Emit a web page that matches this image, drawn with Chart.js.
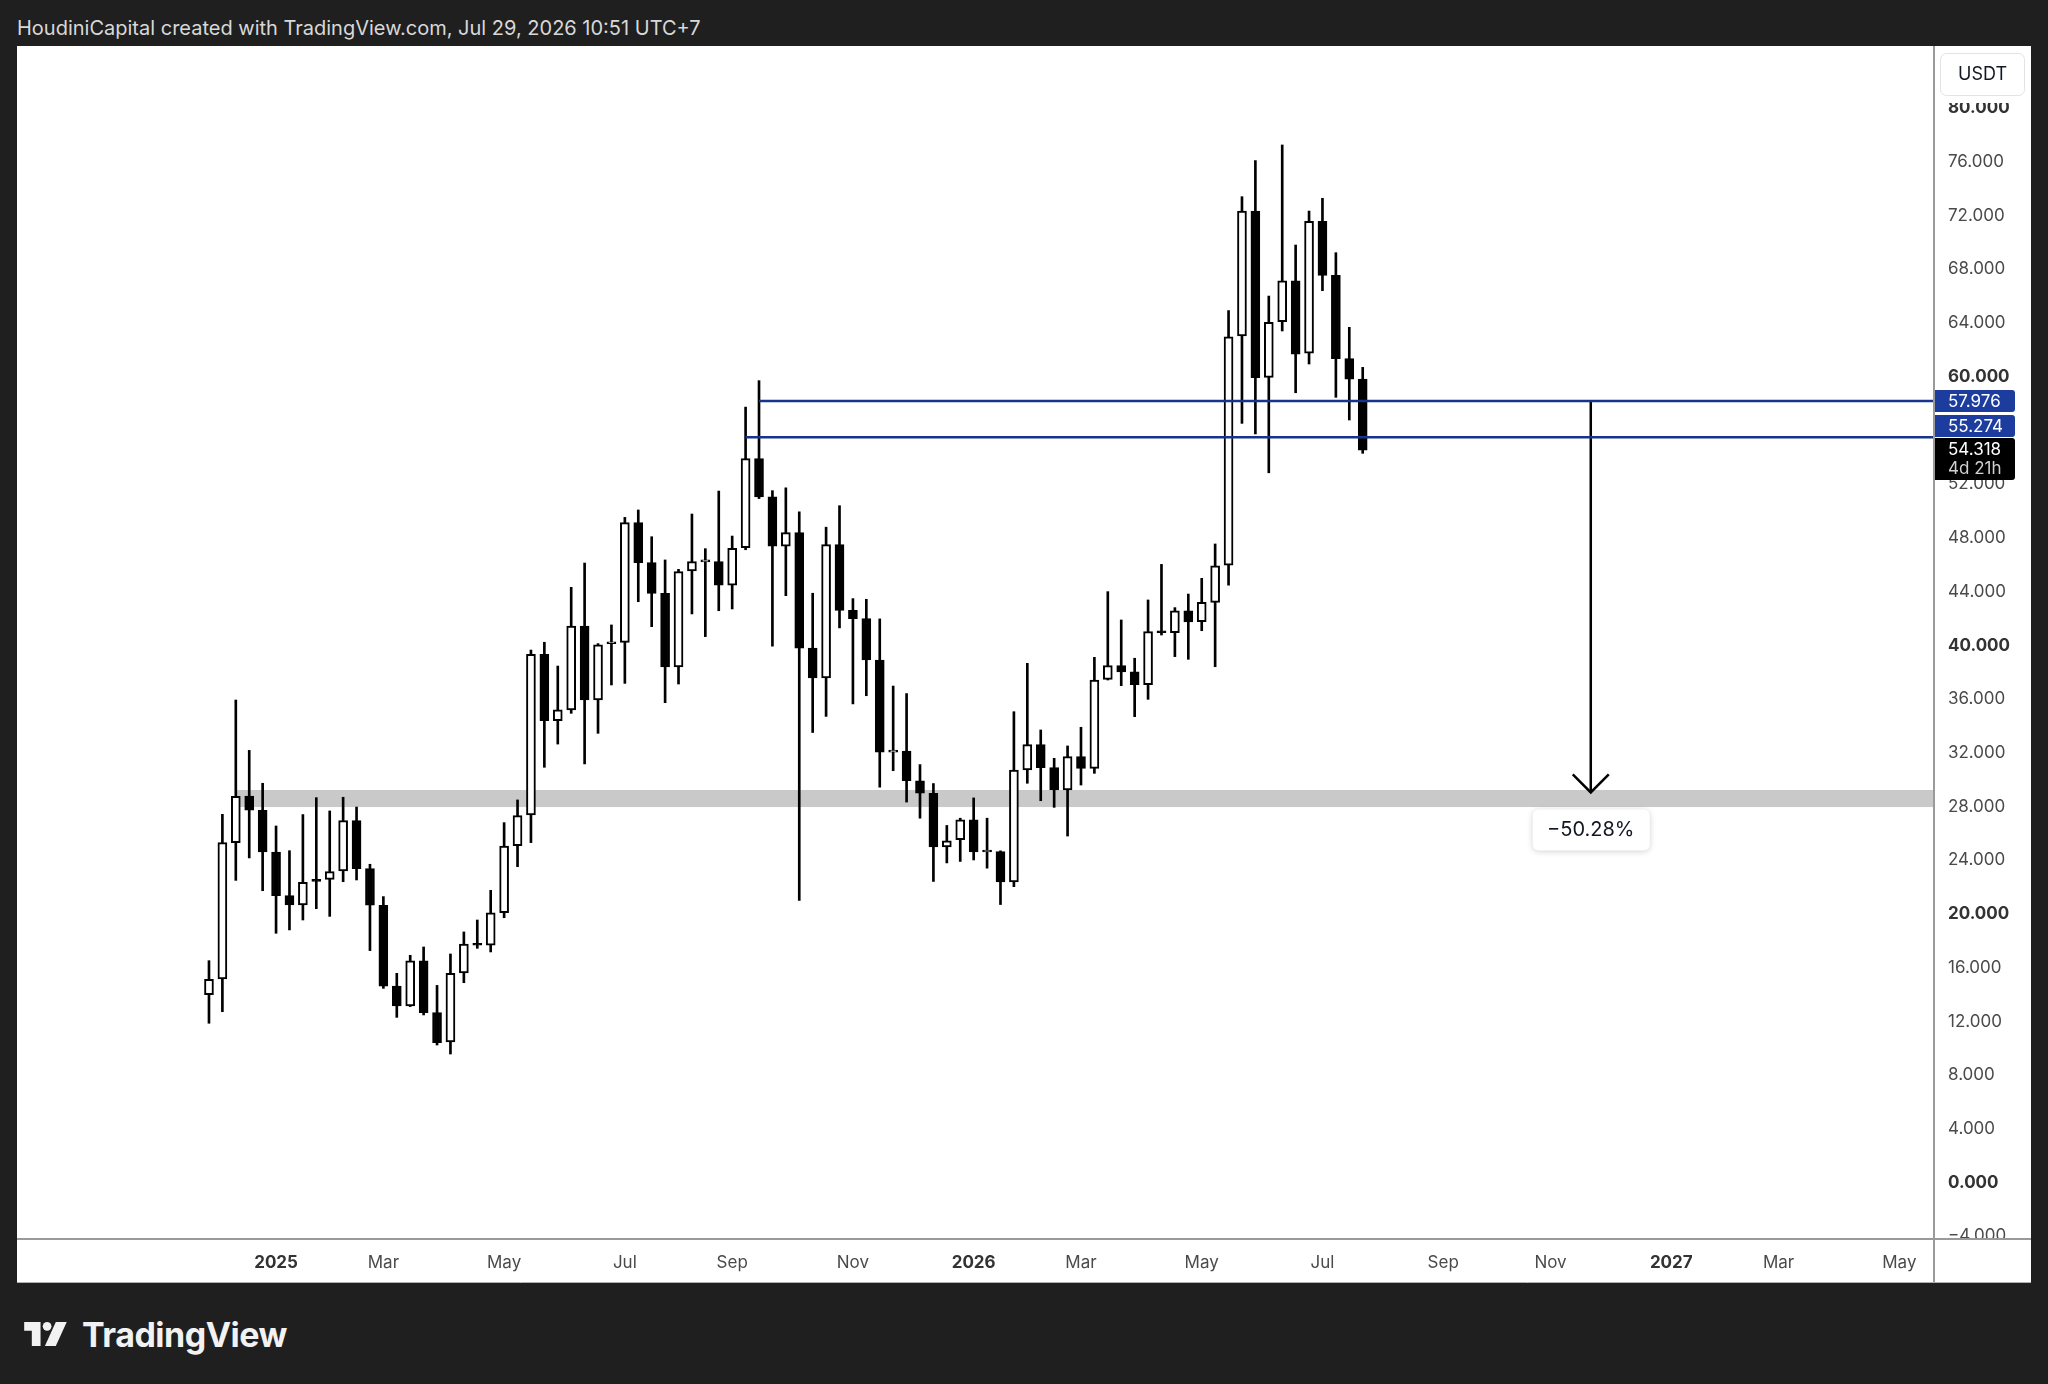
<!DOCTYPE html>
<html>
<head>
<meta charset="utf-8">
<script src="https://cdn.jsdelivr.net/npm/chart.js@4.4.1/dist/chart.umd.min.js"></script>
<style>
    body { margin: 0; width: 2048px; height: 1384px; overflow: hidden; background: #1f1f1f; font-family: Inter, Roboto, sans-serif; }
    #header { position: absolute; left: 17px; top: 16px; font-size: 20px; color: #d8d8d8; white-space: nowrap; }
    #panel { position: absolute; left: 17px; top: 46px; width: 2014px; height: 1237px; background: #fff; }
    #logo { position: absolute; left: 20px; top: 1316px; height: 36px; display: flex; align-items: center; }
    #logo span { font-size: 34px; font-weight: 700; color: #f2f2f2; margin-left: 10px; letter-spacing: -0.5px; }
</style>
</head>
<body>
<div id="header">HoudiniCapital created with TradingView.com, Jul 29, 2026 10:51 UTC+7</div>
<div id="panel"><canvas id="chartPrice"></canvas></div>
<div id="logo">
    <svg width="52" height="24" viewBox="0 0 40 22">
        <path d="M0 0H15V22H7V8H0Z" fill="#f2f2f2"/>
        <circle cx="21" cy="4" r="4" fill="#f2f2f2"/>
        <path d="M29 0H39L29 22H19Z" fill="#f2f2f2"/>
    </svg>
    <span>TradingView</span>
</div>
<script>
// weekly candles, first one opens Mon Dec 2 2024 (prices in thousands)
const startDate = Date.UTC(2024, 11, 2)
const opens = [13.77, 14.94, 25.09, 28.56, 27.50, 24.39, 21.14, 20.45, 22.35, 22.36,
    22.98, 26.73, 23.15, 20.43, 14.41, 12.93, 16.28, 12.43, 10.25, 15.38,
    17.55, 17.45, 19.87, 24.87, 27.15, 39.11, 34.17, 34.97, 41.22, 35.71,
    39.90, 40.00, 48.92, 45.94, 43.65, 38.17, 45.32, 46.00, 46.01, 44.27,
    47.05, 53.69, 50.84, 47.17, 48.18, 39.57, 37.36, 47.28, 42.38, 41.77,
    38.69, 31.83, 31.90, 29.70, 28.77, 24.78, 25.32, 26.78, 24.39, 24.42,
    22.17, 30.50, 32.39, 30.67, 29.01, 31.49, 30.62, 37.25, 38.27, 37.80,
    36.85, 40.80, 40.72, 42.36, 41.55, 42.98, 45.76, 62.82, 72.12, 59.73,
    63.88, 66.93, 61.53, 71.35, 67.33, 61.13, 59.61]
const highs = [16.30, 27.20, 35.71, 31.96, 29.51, 26.33, 24.49, 27.18, 28.44, 27.45,
    28.47, 27.74, 23.48, 21.07, 15.36, 16.70, 17.32, 14.46, 16.80, 18.44,
    19.33, 21.54, 26.58, 28.27, 39.43, 40.01, 38.24, 44.10, 45.91, 39.91,
    41.30, 49.31, 49.86, 47.87, 46.14, 45.44, 49.56, 46.98, 51.27, 47.92,
    57.52, 59.49, 51.30, 51.51, 49.72, 43.66, 48.58, 50.18, 43.26, 43.21,
    41.75, 36.75, 36.19, 30.90, 29.49, 26.37, 26.91, 28.42, 26.91, 24.48,
    34.84, 38.44, 33.48, 31.37, 32.29, 33.68, 38.89, 43.78, 41.67, 38.82,
    43.16, 45.81, 42.59, 43.60, 44.77, 47.33, 64.70, 73.19, 75.87, 65.79,
    77.04, 69.59, 72.12, 73.07, 69.02, 63.46, 60.48]
const lows = [11.64, 12.50, 22.28, 23.95, 21.51, 18.34, 18.59, 19.33, 20.17, 19.60,
    22.18, 22.31, 17.05, 14.24, 12.08, 12.88, 12.26, 10.02, 9.35, 14.66,
    17.22, 16.95, 19.50, 23.30, 25.09, 30.70, 32.43, 34.72, 30.95, 33.23,
    36.83, 36.95, 43.03, 41.17, 35.51, 36.90, 42.12, 40.43, 42.36, 42.49,
    46.90, 50.71, 39.72, 43.48, 20.79, 33.29, 34.49, 41.08, 35.42, 36.03,
    29.22, 30.45, 28.11, 26.91, 22.20, 23.58, 23.69, 23.80, 23.19, 20.48,
    21.81, 29.51, 28.21, 27.72, 25.58, 29.38, 30.25, 37.20, 36.78, 34.47,
    35.76, 40.55, 38.94, 38.74, 40.87, 38.19, 44.27, 56.31, 55.52, 52.63,
    63.19, 58.59, 60.73, 66.19, 58.25, 56.56, 54.08]
const closes = [14.91, 25.09, 28.54, 27.50, 24.39, 21.14, 20.45, 22.13, 22.20, 22.93,
    26.73, 23.15, 20.43, 14.41, 12.93, 16.28, 12.43, 10.20, 15.36, 17.54,
    17.45, 19.87, 24.84, 27.10, 39.11, 34.17, 34.97, 41.22, 35.71, 39.81,
    40.00, 48.92, 45.94, 43.65, 38.17, 45.27, 46.01, 46.10, 44.27, 47.00,
    53.69, 50.84, 47.17, 48.18, 39.57, 37.36, 47.28, 42.38, 41.77, 38.69,
    31.83, 31.95, 29.70, 28.77, 24.78, 25.23, 26.78, 24.39, 24.48, 22.17,
    30.50, 32.39, 30.67, 29.01, 31.49, 30.62, 37.20, 38.27, 37.80, 36.85,
    40.80, 40.72, 42.36, 41.52, 42.98, 45.71, 62.76, 72.12, 59.71, 63.83,
    66.93, 61.47, 71.35, 67.33, 61.13, 59.61, 54.318]

// axis ticks
const priceTicks = [-4, 0, 4, 8, 12, 16, 20, 24, 28, 32, 36, 40, 44, 48, 52, 56, 60, 64, 68, 72, 76, 80]
const timeTicks = [[2025, 0, '2025'], [2025, 2, 'Mar'], [2025, 4, 'May'], [2025, 6, 'Jul'], [2025, 8, 'Sep'],
    [2025, 10, 'Nov'], [2026, 0, '2026'], [2026, 2, 'Mar'], [2026, 4, 'May'], [2026, 6, 'Jul'],
    [2026, 8, 'Sep'], [2026, 10, 'Nov'], [2027, 0, '2027'], [2027, 2, 'Mar'], [2027, 4, 'May']]

// drawings
const rayPrices = [57.976, 55.274]
const rayStarts = [41, 40]
const zoneLow = 27.74
const zoneHigh = 29.01
const zoneStart = 2
const arrowWeek = 103
const arrowFrom = 57.976
const arrowTo = 28.83
const arrowLabel = '−50.28%'
const lastPrice = 54.318
const countdown = '4d 21h'

const FONT = 'Inter, Roboto, sans-serif'
const xMin = -14.31
const xMax = 128.51

function weekOf(y, m) {
    // first monday of the month
    let dow = new Date(Date.UTC(y, m, 1)).getUTCDay()
    let day = 1 + (8 - dow) % 7
    return (Date.UTC(y, m, day) - startDate) / (7 * 86400000)
}
let tickWeeks = timeTicks.map(t => weekOf(t[0], t[1]))
let fmt = v => v.toFixed(3).replace('-', '−')
let isYear = c => c.index !== undefined && timeTicks[c.index] && /^\d{4}$/.test(timeTicks[c.index][2])
let isRound = c => c.tick !== undefined && c.tick.value % 20 === 0

let bodies = []
let wicks = []
for (let i = 0; i < opens.length; i++) {
    bodies.push({x: i, y: [opens[i], closes[i]]})
    wicks.push({x: i, y: [lows[i], highs[i]]})
}

const overlay = {
    id: 'overlay',
    beforeDatasetsDraw(chart) {
        const {ctx, chartArea, scales: {x, y}} = chart
        let left = x.getPixelForValue(zoneStart)
        let top = y.getPixelForValue(zoneHigh)
        let bottom = y.getPixelForValue(zoneLow)
        ctx.save()
        ctx.fillStyle = '#c9c9c9'
        ctx.fillRect(left, top, chartArea.right - left, bottom - top)
        ctx.restore()
    },
    afterDatasetsDraw(chart) {
        const {ctx, scales: {x, y}} = chart
        let ax = x.getPixelForValue(arrowWeek)
        let ay = y.getPixelForValue(arrowTo)
        ctx.save()
        ctx.strokeStyle = '#000'
        ctx.lineWidth = 2.5
        ctx.beginPath()
        ctx.moveTo(ax - 18, ay - 18)
        ctx.lineTo(ax, ay)
        ctx.lineTo(ax + 18, ay - 18)
        ctx.stroke()
        // percent label
        ctx.shadowColor = 'rgba(0,0,0,0.18)'
        ctx.shadowBlur = 6
        ctx.shadowOffsetY = 1
        ctx.fillStyle = '#fff'
        ctx.beginPath()
        ctx.roundRect(ax - 58, ay + 17, 117, 41, 6)
        ctx.fill()
        ctx.shadowColor = 'transparent'
        ctx.fillStyle = '#131722'
        ctx.font = '20px ' + FONT
        ctx.textAlign = 'center'
        ctx.textBaseline = 'middle'
        ctx.fillText(arrowLabel, ax, ay + 38)
        ctx.restore()
    },
    afterDraw(chart) {
        const {ctx, chartArea, width, height, scales: {y}} = chart
        let r = chartArea.right
        let b = chartArea.bottom
        ctx.save()
        // corners of the price axis
        ctx.fillStyle = '#fff'
        ctx.fillRect(r + 1, b + 1, width - r, height - b)
        ctx.fillRect(r + 1, 0, width - r, 57)
        ctx.strokeStyle = '#e3e3e3'
        ctx.lineWidth = 1
        ctx.beginPath()
        ctx.roundRect(r + 7.5, 7.5, 84, 42, 6)
        ctx.stroke()
        ctx.fillStyle = '#131722'
        ctx.font = '18px ' + FONT
        ctx.textAlign = 'center'
        ctx.textBaseline = 'middle'
        ctx.fillText('USDT', r + 49.5, 29)
        // separators
        ctx.strokeStyle = '#9a9a9a'
        ctx.lineWidth = 2
        ctx.beginPath()
        ctx.moveTo(r + 1, 0)
        ctx.lineTo(r + 1, height)
        ctx.moveTo(0, b + 1)
        ctx.lineTo(width, b + 1)
        ctx.stroke()
        ctx.strokeStyle = '#b0b0b0'
        ctx.lineWidth = 1
        ctx.beginPath()
        ctx.moveTo(0, height - 0.5)
        ctx.lineTo(width, height - 0.5)
        ctx.stroke()
        // price labels
        ctx.font = '17px ' + FONT
        ctx.textAlign = 'left'
        let lastTop = y.getPixelForValue(lastPrice) - 12
        let tops = [y.getPixelForValue(rayPrices[0]) - 11,
            Math.min(y.getPixelForValue(rayPrices[1]) - 11, lastTop - 23)]
        rayPrices.forEach(function(p, i) {
            ctx.fillStyle = '#1c3d9e'
            ctx.beginPath()
            ctx.roundRect(r + 2, tops[i], 80, 22, [0, 3, 3, 0])
            ctx.fill()
            ctx.fillStyle = '#fff'
            ctx.fillText(fmt(p), r + 15, tops[i] + 11.5)
        })
        ctx.fillStyle = '#000'
        ctx.beginPath()
        ctx.roundRect(r + 2, lastTop, 80, 42, [0, 3, 3, 0])
        ctx.fill()
        ctx.fillStyle = '#fff'
        ctx.fillText(fmt(lastPrice), r + 15, lastTop + 12)
        ctx.fillStyle = '#d0d0d0'
        ctx.fillText(countdown, r + 15, lastTop + 31)
        ctx.restore()
    }
}

var ctx = document.getElementById('chartPrice').getContext('2d')
var chart = new Chart(ctx, {
    type: 'bar',
    data: {
        datasets: [{
            type: 'line',
            data: [{x: rayStarts[0], y: rayPrices[0]}, {x: xMax, y: rayPrices[0]}],
            borderColor: '#17348a',
            borderWidth: 2.5,
            pointRadius: 0,
            order: 0
        }, {
            type: 'line',
            data: [{x: rayStarts[1], y: rayPrices[1]}, {x: xMax, y: rayPrices[1]}],
            borderColor: '#17348a',
            borderWidth: 2.5,
            pointRadius: 0,
            order: 0
        }, {
            type: 'line',
            data: [{x: arrowWeek, y: arrowFrom}, {x: arrowWeek, y: arrowTo}],
            borderColor: '#000',
            borderWidth: 2.5,
            pointRadius: 0,
            order: 0
        }, {
            label: 'Body',
            data: bodies,
            backgroundColor: c => closes[c.dataIndex] >= opens[c.dataIndex] ? '#fff' : '#000',
            borderColor: '#000',
            borderWidth: 2,
            borderSkipped: false,
            barThickness: 9,
            minBarLength: 2,
            grouped: false,
            order: 1
        }, {
            label: 'Wick',
            data: wicks,
            backgroundColor: '#000',
            borderWidth: 0,
            barThickness: 2,
            grouped: false,
            order: 2
        }]
    },
    options: {
        responsive: true,
        maintainAspectRatio: false,
        animation: false,
        layout: { padding: 0 },
        plugins: { legend: { display: false }, tooltip: { enabled: false } },
        scales: {
            x: {
                type: 'linear',
                min: xMin,
                max: xMax,
                offset: false,
                grid: { display: false, drawTicks: false },
                border: { display: false },
                afterBuildTicks: s => { s.ticks = tickWeeks.map(v => ({value: v})) },
                afterFit: s => { s.height = 45; s.paddingLeft = 0; s.paddingRight = 0 },
                ticks: {
                    autoSkip: false,
                    maxRotation: 0,
                    padding: 15,
                    color: c => isYear(c) ? '#333' : '#4a4a4a',
                    font: c => ({family: FONT, size: 17, weight: isYear(c) ? 'bold' : 'normal'}),
                    callback: (v, i) => timeTicks[i] ? timeTicks[i][2] : ''
                }
            },
            y: {
                position: 'right',
                min: -4.35,
                max: 84.41,
                grid: { display: false, drawTicks: false },
                border: { display: false },
                afterBuildTicks: s => { s.ticks = priceTicks.map(v => ({value: v})) },
                afterFit: s => { s.width = 98; s.paddingTop = 0; s.paddingBottom = 0 },
                ticks: {
                    padding: 15,
                    labelOffset: 3,
                    color: c => isRound(c) ? '#333' : '#4a4a4a',
                    font: c => ({family: FONT, size: 17, weight: isRound(c) ? 'bold' : 'normal'}),
                    callback: v => fmt(v)
                }
            }
        }
    },
    plugins: [overlay]
})
</script>
</body>
</html>
